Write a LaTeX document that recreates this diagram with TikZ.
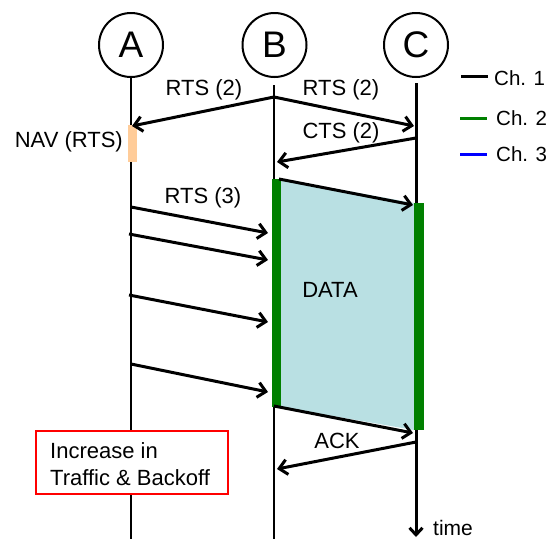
\documentclass[tikz,border=0pt]{standalone}
\usepackage{fontspec}
\setmainfont{Liberation Sans}
\usetikzlibrary{arrows.meta}
\definecolor{navpeach}{RGB}{255,204,153}
\definecolor{datafill}{RGB}{185,224,227}
\definecolor{chgreen}{RGB}{0,128,0}
\definecolor{chblue}{RGB}{0,0,255}
\begin{document}
\begin{tikzpicture}[x=1pt,y=-1pt,
  station/.style={circle, draw, line width=2pt, minimum size=64pt, inner sep=0pt,
    font=\fontsize{37}{40}\selectfont},
  lifeline/.style={line width=2pt},
  msg/.style={line width=3pt, -{Straight Barb[length=8pt,width=15pt]}},
  lbl/.style={font=\fontsize{22}{26}\selectfont, inner sep=0pt},
  leglbl/.style={font=\fontsize{20.5}{24}\selectfont, inner sep=0pt, anchor=west},
  busy/.style={fill=chgreen, draw=none},
  legline/.style={line width=3pt}]
\useasboundingbox (0,0) rectangle (549,539);

% stations
\node[station] (A) at (131,45) {A};
\node[station] (B) at (274.5,45) {B};
\node[station] (C) at (416,45) {C};

% lifelines
\coordinate (a0) at (131,77);  \coordinate (aend) at (131,539);
\coordinate (b0) at (274,85);  \coordinate (bend) at (274,539);
\coordinate (c0) at (416,83);  \coordinate (cend) at (416,537);
\draw[lifeline] (a0) -- (aend);
\draw[lifeline] (b0) -- (bend);
\draw[line width=3pt, -{Straight Barb[length=7pt,width=13pt]}] (c0) -- (cend);
\node[lbl, anchor=west, font=\fontsize{21}{24}\selectfont] (time) at (433,528) {time};

% data exchange B -> C
\coordinate (d1) at (281,179); \coordinate (d2) at (414,203);
\coordinate (d3) at (414,430); \coordinate (d4) at (281,407);
\fill[datafill] (d1) -- (d2) -- (d3) -- (d4) -- cycle;
\fill[busy] (272,179) rectangle (281,407);
\fill[busy] (414,203) rectangle (424,430);
\node[lbl] (data) at (330,290) {DATA};

% NAV
\fill[navpeach] (128,125) rectangle (137,162);
\node[lbl, anchor=east] (nav) at (123,142) {NAV (RTS)};

% RTS (2) from B
\coordinate (rtsB) at (274,97);
\coordinate (rtsA) at (132,126);
\coordinate (rtsC) at (414,126);
\draw[msg] (rtsB) -- (rtsA);
\draw[msg] (rtsB) -- (rtsC);
\node[lbl] (rtsl) at (204,90) {RTS (2)};
\node[lbl] (rtsr) at (341,90) {RTS (2)};

% CTS (2) from C
\coordinate (ctsC) at (416,138);
\coordinate (ctsB) at (277,162);
\draw[msg] (ctsC) -- (ctsB);
\node[lbl] (ctsl) at (341,133) {CTS (2)};

% data frame edges
\coordinate (dtop0) at (279,179); \coordinate (dtop1) at (413,205);
\coordinate (dbot0) at (274,406); \coordinate (dbot1) at (413,433);
\draw[msg] (dtop0) -- (dtop1);
\draw[msg] (dbot0) -- (dbot1);

% RTS (3) attempts from A
\coordinate (r1a) at (131,207); \coordinate (r1b) at (268,233);
\coordinate (r2a) at (129,234); \coordinate (r2b) at (268,260);
\coordinate (r3a) at (129,295); \coordinate (r3b) at (268,322);
\coordinate (r4a) at (131,364); \coordinate (r4b) at (268,392);
\draw[msg] (r1a) -- (r1b);
\draw[msg] (r2a) -- (r2b);
\draw[msg] (r3a) -- (r3b);
\draw[msg] (r4a) -- (r4b);
\node[lbl] (rts3) at (203,198) {RTS (3)};

% ACK
\coordinate (ackC) at (416,442);
\coordinate (ackB) at (277,469);
\draw[msg] (ackC) -- (ackB);
\node[lbl] (ackl) at (337,441) {ACK};

% note box
\node[draw=red, line width=2.5pt, fill=white, minimum width=192pt, minimum height=63pt,
      inner sep=0pt] (note) at (132,462.5) {};
\node[lbl, anchor=west, align=left, font=\fontsize{22}{27}\selectfont] (notetext) at (50,464)
  {Increase in\\Traffic \& Backoff};

% legend
\coordinate (l1a) at (461,76);  \coordinate (l1b) at (488,76);
\coordinate (l2a) at (460,118); \coordinate (l2b) at (487,118);
\coordinate (l3a) at (460,154); \coordinate (l3b) at (487,154);
\draw[legline, black] (l1a) -- (l1b);
\draw[legline, chgreen] (l2a) -- (l2b);
\draw[legline, chblue] (l3a) -- (l3b);
\node[leglbl] (ch1) at (494,78) {Ch. 1};
\node[leglbl] (ch2) at (496,118) {Ch. 2};
\node[leglbl] (ch3) at (496,154) {Ch. 3};
\end{tikzpicture}
\end{document}
